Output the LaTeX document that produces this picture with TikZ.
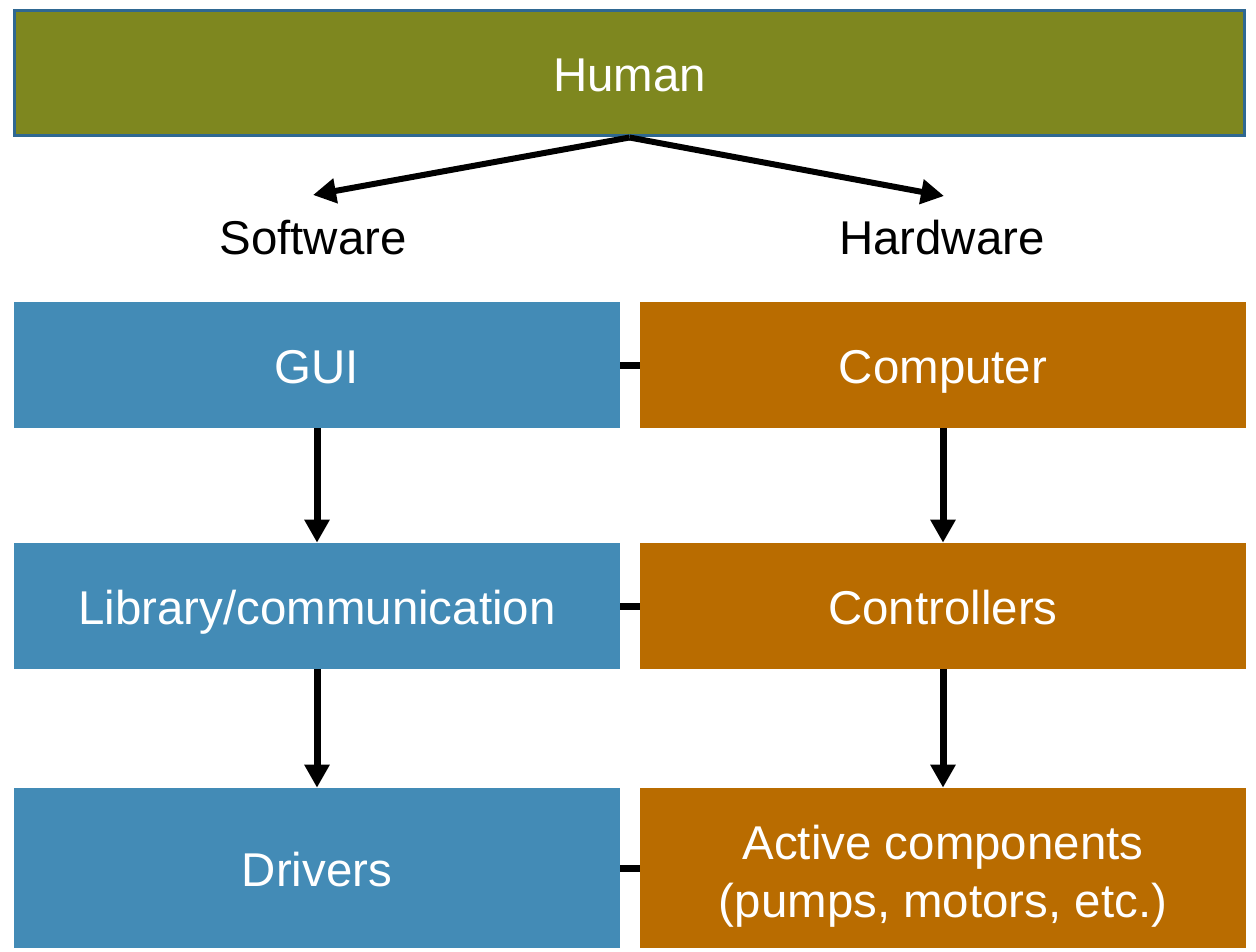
\documentclass[tikz,border=0pt]{standalone}
\usepackage{fontspec}
\setmainfont{Liberation Sans}
\usetikzlibrary{arrows.meta}
\definecolor{humanolive}{RGB}{126,135,31}
\definecolor{humanedge}{RGB}{47,104,146}
\definecolor{softblue}{RGB}{67,139,182}
\definecolor{hardorange}{RGB}{185,108,0}

\begin{document}
\begin{tikzpicture}[x=0.02cm,y=-0.02cm,
  lbl/.style={font=\fontsize{27}{33}\selectfont},
  box/.style={lbl,text=white,inner sep=0pt,minimum width=12.12cm,minimum height=2.52cm,align=center},
  oneline/.style={text height=0.74cm,text depth=0pt},
  link/.style={line width=0.14cm,-{Triangle[length=0.46cm,width=0.48cm]}},
  bar/.style={line width=0.14cm}]
  \useasboundingbox (0,0) rectangle (1256,951);
  % top box
  \node[lbl,oneline,text=white,fill=humanolive,draw=humanedge,line width=0.06cm,inner sep=0pt,
        minimum width=24.62cm,minimum height=2.52cm] (human) at (629.5,73) {Human};
  \node[lbl] (soft) at (313,238) {Software};
  \node[lbl] (hard) at (942,238) {Hardware};
  \coordinate (softtip) at (313,195);
  \coordinate (hardtip) at (944,196);
  \draw[link,line width=0.12cm] (human.south) -- (softtip);
  \draw[link,line width=0.12cm] (human.south) -- (hardtip);
  % software column
  \node[box,oneline,fill=softblue] (gui) at (317,365) {GUI};
  \node[box,oneline,fill=softblue] (lib) at (317,606) {Library/communication};
  \node[box,oneline,fill=softblue,minimum height=3.2cm] (drv) at (317,868) {Drivers};
  % hardware column
  \node[box,oneline,fill=hardorange] (comp) at (943,365) {Computer};
  \node[box,oneline,fill=hardorange] (ctrl) at (943,606) {Controllers};
  \node[box,fill=hardorange,minimum height=3.2cm,text height=1.96cm,text depth=0pt] (act) at (943,868) {Active components\\(pumps, motors, etc.)};
  % arrows down
  \draw[link] (gui) -- (lib);
  \draw[link] (lib) -- (drv);
  \draw[link] (comp) -- (ctrl);
  \draw[link] (ctrl) -- (act);
  % side links
  \draw[bar] (gui) -- (comp);
  \draw[bar] (lib) -- (ctrl);
  \draw[bar] (drv) -- (act);
\end{tikzpicture}
\end{document}
